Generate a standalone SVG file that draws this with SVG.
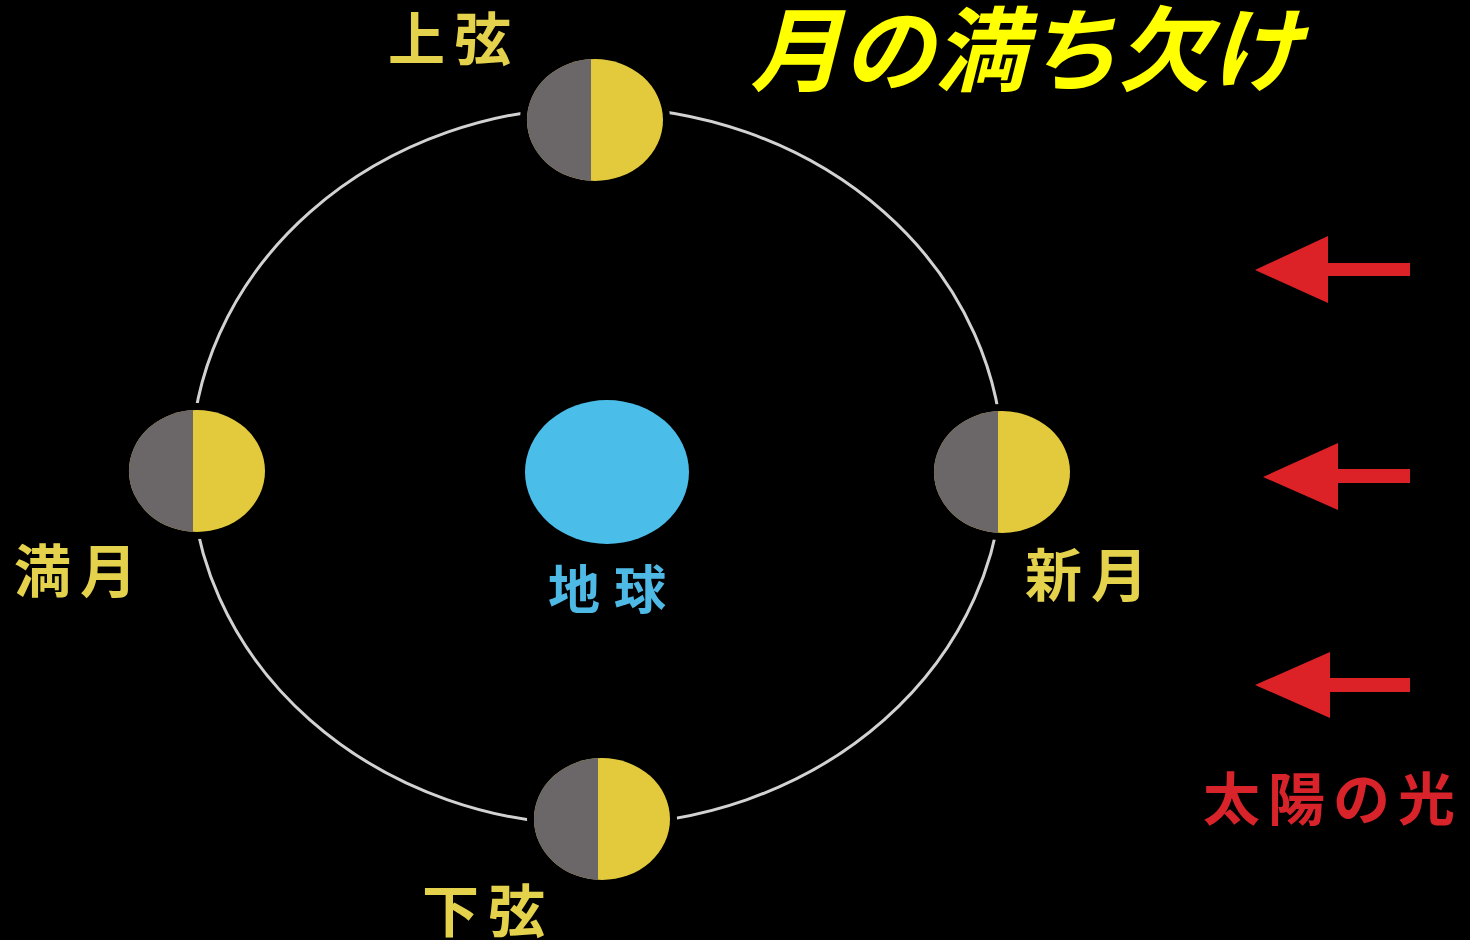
<svg xmlns="http://www.w3.org/2000/svg" xmlns:xlink="http://www.w3.org/1999/xlink" width="1470" height="940" viewBox="0 0 1470 940">
  <style>
    .lbl { font-family: "Noto Sans CJK JP", "Noto Sans", sans-serif; font-weight: 700; font-size: 57px; letter-spacing: 9px; }
    .moon-lbl { fill: #e4d24c; }
    .earth-lbl { fill: #4fb9e6; font-size: 52px; letter-spacing: 14px; }
    .sun-lbl { fill: #d8232a; letter-spacing: 8px; }
    .title { font-family: "Noto Sans CJK JP", "Noto Sans", sans-serif; font-style: italic; font-weight: 700; font-size: 92px; fill: #ffff00; }
    .orbit { fill: none; stroke: #d2d2d2; stroke-width: 3; }
    .ray { fill: #dc2226; }
  </style>
  <defs>
    <!-- half-lit moon centred on the origin: dark side left, lit side right -->
    <g id="moon">
      <ellipse rx="75" ry="68" fill="#000"/>
      <ellipse rx="68" ry="61" fill="#e2ca3c"/>
      <path d="M -4,-60.9 A 68 61 0 0 0 -4,60.9 Z" fill="#6b6769"/>
    </g>
  </defs>

  <rect width="1470" height="940" fill="#000"/>

  <g id="connectors">
    <ellipse class="orbit" cx="597" cy="466" rx="406" ry="359"/>
  </g>

  <g id="title">
    <text class="title" x="750" y="84">月の満ち欠け</text>
  </g>

  <g id="earth">
    <ellipse cx="607" cy="472" rx="82" ry="72" fill="#4bbde9"/>
    <text class="lbl earth-lbl" x="548" y="609">地球</text>
  </g>

  <g id="moon-first-quarter">
    <use xlink:href="#moon" x="595" y="120"/>
    <text class="lbl moon-lbl" x="388" y="60">上弦</text>
  </g>

  <g id="moon-full">
    <use xlink:href="#moon" x="197" y="471"/>
    <text class="lbl moon-lbl" x="14" y="592">満月</text>
  </g>

  <g id="moon-new">
    <use xlink:href="#moon" x="1002" y="472"/>
    <text class="lbl moon-lbl" x="1025" y="596">新月</text>
  </g>

  <g id="moon-last-quarter">
    <use xlink:href="#moon" x="602" y="819"/>
    <text class="lbl moon-lbl" x="422" y="932">下弦</text>
  </g>

  <g id="sunlight">
    <path class="ray" d="M 1255,270 L 1328,236 L 1328,263 L 1410,263 L 1410,276 L 1328,276 L 1328,303 Z"/>
    <path class="ray" d="M 1263,477 L 1338,443 L 1338,469 L 1410,469 L 1410,483 L 1338,483 L 1338,510 Z"/>
    <path class="ray" d="M 1255,685 L 1330,652 L 1330,678 L 1410,678 L 1410,692 L 1330,692 L 1330,718 Z"/>
    <text class="lbl sun-lbl" x="1203" y="820">太陽の光</text>
  </g>
</svg>
